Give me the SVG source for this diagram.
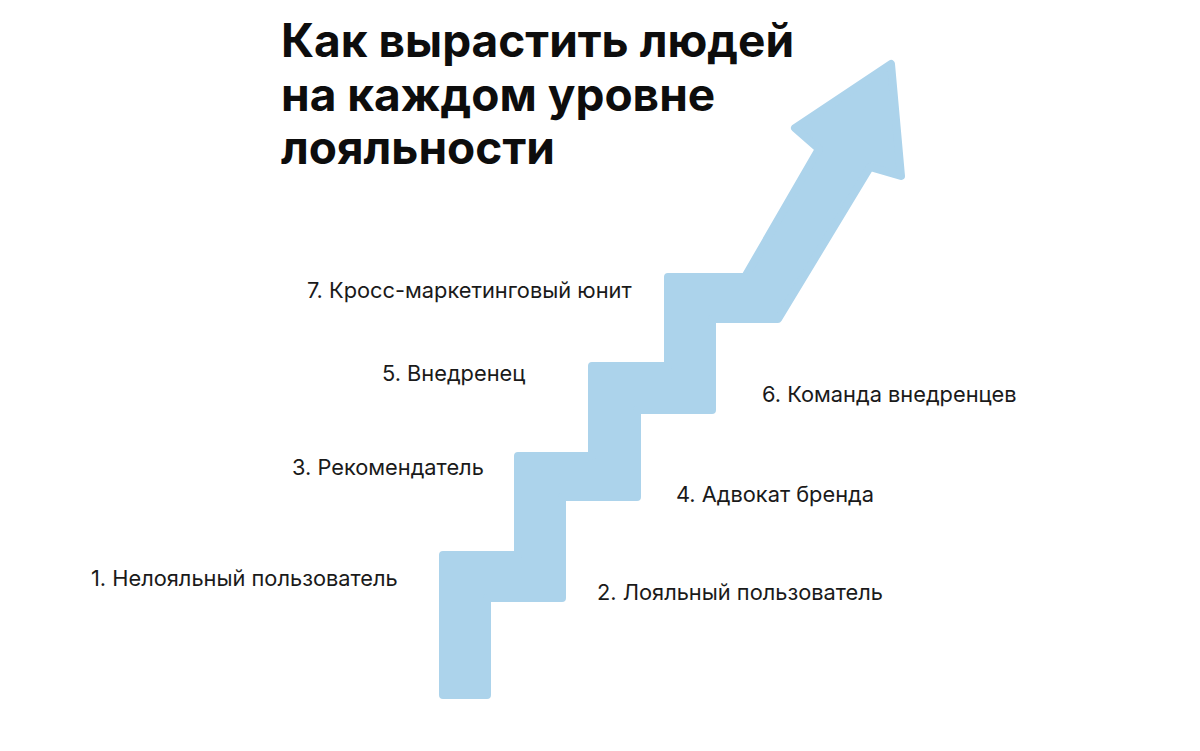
<svg xmlns="http://www.w3.org/2000/svg" width="1200" height="751" viewBox="0 0 1200 751">
<style>
.title{font-family:Inter,"Liberation Sans",sans-serif;font-weight:700;font-size:46px;fill:#0d0d0d}
.lbl{font-family:Inter,"Liberation Sans",sans-serif;font-size:21.8px;fill:#1a1a1a}
.stair{fill:#acd3eb;stroke:#acd3eb;stroke-width:8;stroke-linejoin:round}
</style>
<rect width="1200" height="751" fill="#fff"/>
<g id="connectors">
<path class="stair" d="M443,695 L443,555 L518,555 L518,456 L592,456 L592,366 L668,366 L668,277 L745,277 L819,149 L795,128 L891,64 L901,176 L870,167 L778,319 L712,319 L712,410 L637,410 L637,497 L562,497 L562,598 L487,598 L487,695 Z"/>
</g>
<g id="title">
<text class="title" x="281" y="57">Как вырастить людей</text>
<text class="title" x="281" y="111">на каждом уровне</text>
<text class="title" x="281" y="164">лояльности</text>
</g>
<g id="n1"><text class="lbl" x="91" y="586">1. Нелояльный пользователь</text></g>
<g id="n2"><text class="lbl" x="597" y="600">2. Лояльный пользователь</text></g>
<g id="n3"><text class="lbl" x="292" y="475">3. Рекомендатель</text></g>
<g id="n4"><text class="lbl" x="676" y="502">4. Адвокат бренда</text></g>
<g id="n5"><text class="lbl" x="382" y="381">5. Внедренец</text></g>
<g id="n6"><text class="lbl" x="762" y="402">6. Команда внедренцев</text></g>
<g id="n7"><text class="lbl" x="307" y="298">7. Кросс-маркетинговый юнит</text></g>
</svg>
